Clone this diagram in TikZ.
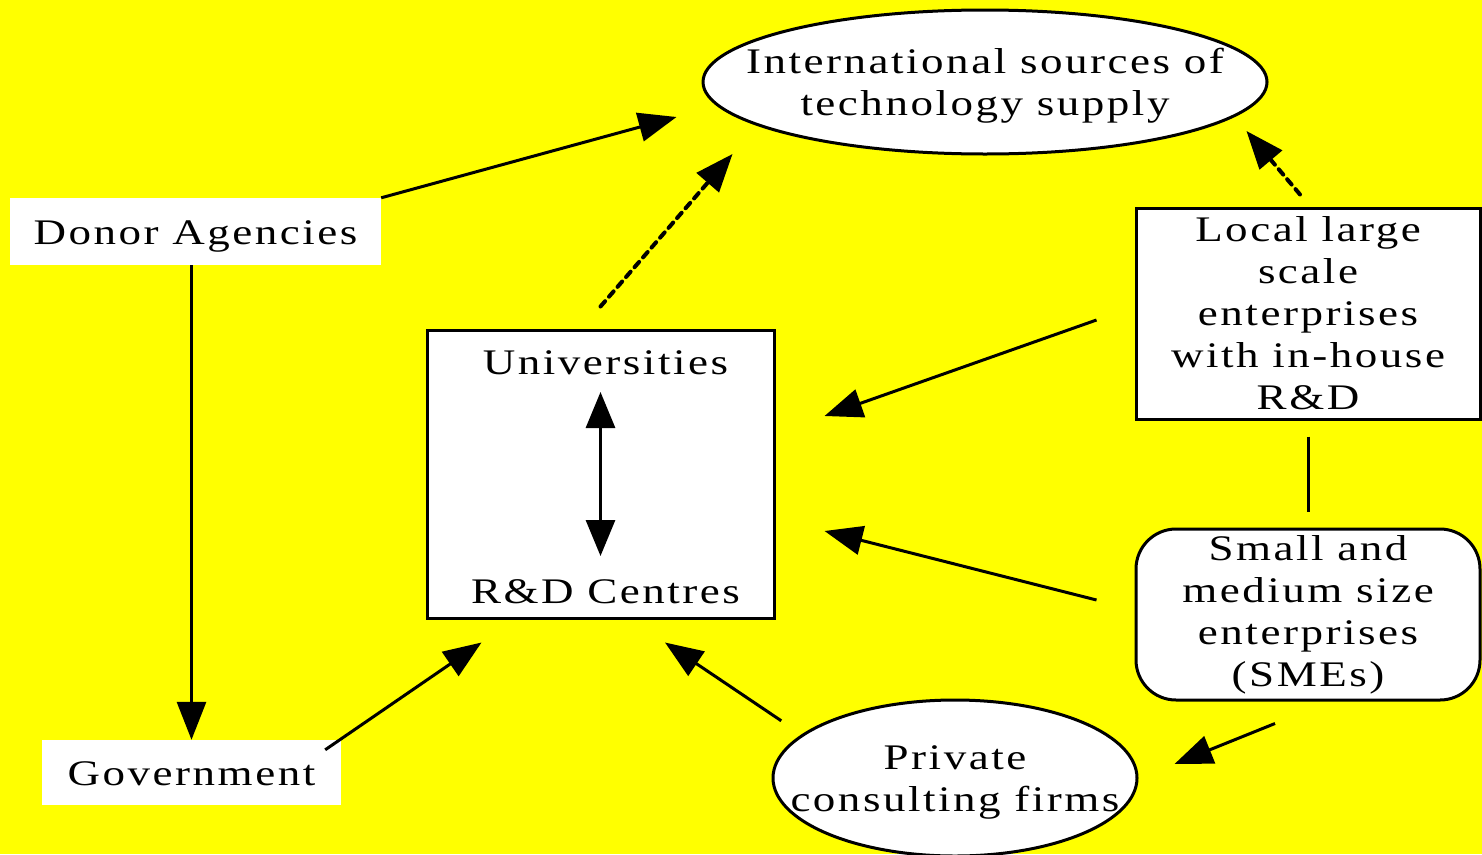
\documentclass[tikz,border=0pt]{standalone}
\usepackage{fontspec}
\setmainfont{Liberation Serif}[FakeStretch=1.25, LetterSpace=7]
\usetikzlibrary{arrows.meta, positioning, calc, shapes.geometric}
\definecolor{fondo}{RGB}{255,255,0}
\tikzset{
    texto/.style={
        align=center, inner sep=0pt,
        font=\fontsize{36}{42}\selectfont
    },
    caja/.style={texto, rectangle, draw=black, fill=white, line width=3pt},
    ovalo/.style={ellipse, draw=black, fill=white, line width=3pt, inner sep=0pt},
    etiqueta/.style={texto, rectangle, fill=white, text height=34pt, text depth=8pt},
    flecha/.style={-{Triangle[length=38pt,width=29pt]}, line width=3pt},
    flechapunteada/.style={flecha, line width=4pt, dash pattern=on 7pt off 6pt, line cap=round}
}

\begin{document}
\begin{tikzpicture}[x=1pt, y=-1pt]

    \fill[fondo] (0,0) rectangle (1482,854);
    \useasboundingbox (0,0) rectangle (1482,854);

    % nodos
    \node[ovalo, minimum width=564pt, minimum height=144pt] (intl) at (985,82) {};
    \node[texto, yshift=-4pt] (intltxt) at (intl.center) {International sources of\\technology supply};

    \node[etiqueta, minimum width=371pt, minimum height=67pt] (donor) at (195.5,231.5)
        {Donor Agencies};
    \node[etiqueta, minimum width=299pt, minimum height=65pt] (govt) at (191.5,772.5)
        {Government};

    \node[caja, minimum width=347pt, minimum height=288pt] (univ) at (600.5,474) {};
    \node[texto] (unitop) at ($(univ.north)+(5,34)$) {Universities};
    \node[texto] (rdc)    at ($(univ.south)+(5,-28)$) {R\&D Centres};

    \node[caja, minimum width=344pt, minimum height=211pt] (large) at (1308,313.5)
        {Local large\\scale\\enterprises\\with in-house\\R\&D};
    \node[caja, rounded corners=40pt, minimum width=344pt, minimum height=171pt] (sme) at (1308,614.5)
        {Small and\\medium size\\enterprises\\(SMEs)};

    \node[ovalo, minimum width=364pt, minimum height=156pt] (priv) at (955,778) {};
    \node[texto, yshift=-4pt] (privtxt) at (priv.center) {Private\\consulting firms};

    % conectores
    \draw[flecha] (donor.north east) -- ($(intl.west)+(-25,35)$);
    \draw[flecha] (govt |- donor.south) -- (govt.north);
    \draw[flecha] ($(govt.north east)+(-16,10)$) -- ($(univ.south west)+(56,23)$);
    \draw[flecha] ($(priv.north west)+(-44,-1)$) -- ($(univ.south)+(64.5,23)$);
    \draw[flecha] ($(large.west)+(-38,6.5)$) -- ($(univ.east)+(49,-58)$);
    \draw[flecha] ($(sme.west)+(-38,-14.5)$) -- ($(univ.east)+(49,57)$);
    \draw[flecha] ($(sme.south)+(-33,22)$) -- ($(priv.east)+(36,-14)$);
    \draw[line width=3pt, shorten <=16pt, shorten >=16pt] (large) -- (sme);
    \draw[flechapunteada] ($(univ.north)+(0,-22)$) -- ($(intl.south west)+(-52,20)$);
    \draw[flechapunteada] ($(large.north)+(-8,-12)$) -- ($(intl.south east)+(61,-3)$);
    \draw[flecha, {Triangle[length=36pt,width=29pt]}-{Triangle[length=36pt,width=29pt]}]
        ($(univ.center)+(0,-82)$) -- ($(univ.center)+(0,82)$);

\end{tikzpicture}
\end{document}
